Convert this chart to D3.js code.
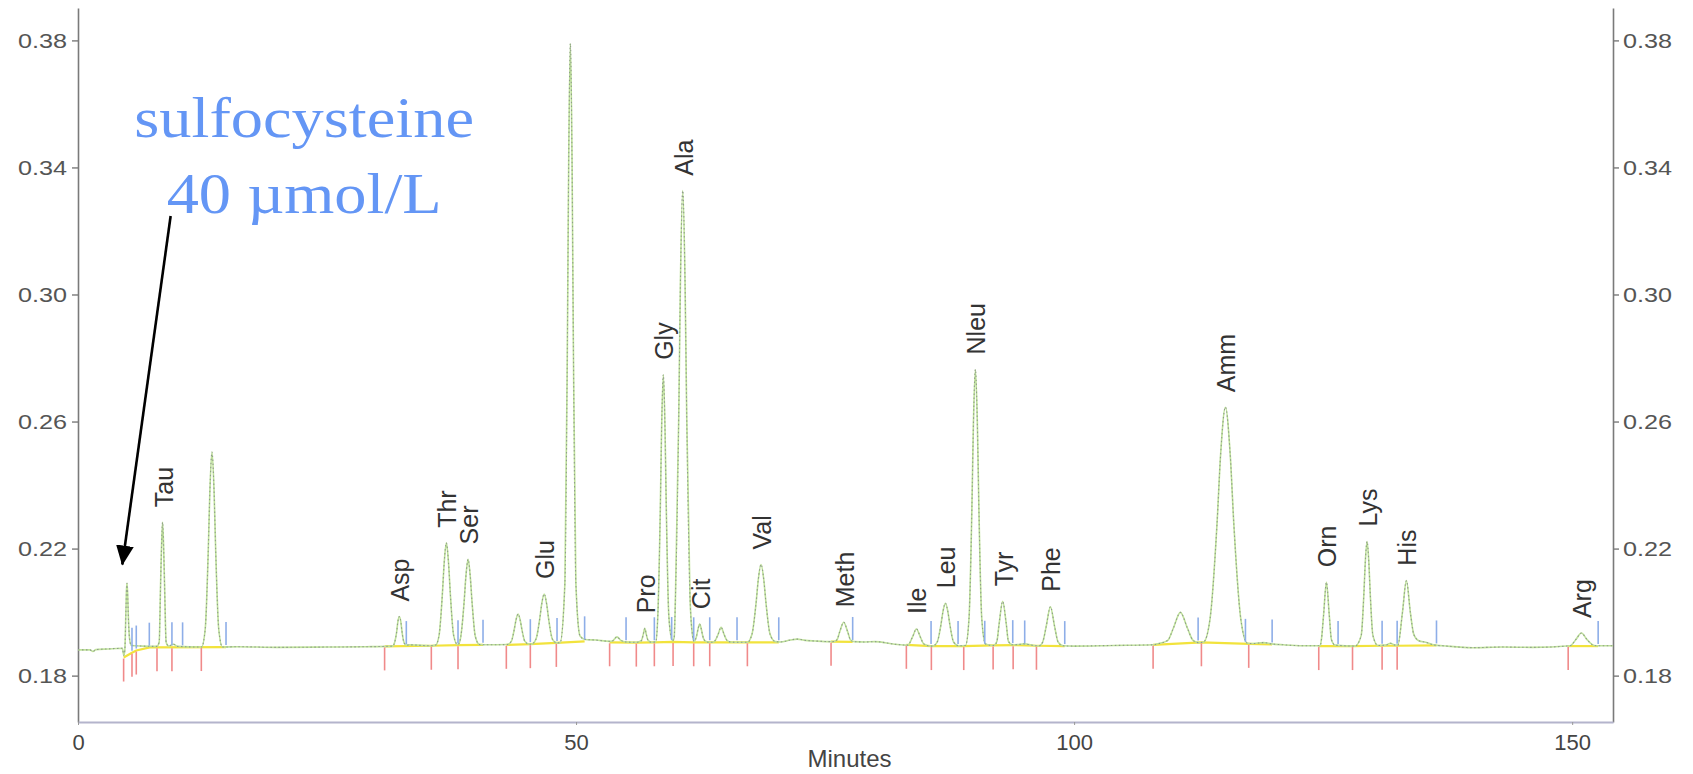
<!DOCTYPE html>
<html>
<head>
<meta charset="utf-8">
<script src="https://cdn.jsdelivr.net/npm/d3@7"></script>
<style>
  html, body { margin: 0; padding: 0; background: #fff; }
  svg { display: block; }
  text { font-family: "Liberation Sans", Arial, sans-serif; }
</style>
</head>
<body>
<svg id="chart" width="1693" height="774"></svg>
<script>
// ---------------- DATA ----------------
const xTicks = [0, 50, 100, 150];
const yTicks = [0.18, 0.22, 0.26, 0.30, 0.34, 0.38];
const xLabel = "Minutes";

// chromatogram trace [minutes, absorbance]
const trace = [
  [0,0.1881],[1.2,0.1881],[1.5,0.1876],[1.8,0.1882],[3,0.1884],[4.45,0.1886],
  [4.60,0.1864],[4.70,0.1880],[4.80,0.1990],[4.87,0.2070],[4.92,0.2091],[4.98,0.2060],[5.05,0.1990],[5.18,0.1915],[5.35,0.1895],
  [6.5,0.1893],[7.9,0.1892],[8.15,0.1905],[8.29,0.2087],[8.38,0.2200],[8.49,0.2283],[8.60,0.2200],[8.69,0.2087],[8.85,0.1905],[9.1,0.1893],
  [9.6,0.1899],[10.0,0.1892],[12.4,0.1890],
  [12.77,0.1946],[13.08,0.2197],[13.24,0.2381],[13.45,0.2504],[13.66,0.2381],[13.82,0.2197],[14.13,0.1946],[14.5,0.1890],
  [16,0.1891],[20,0.1889],[25,0.1890],[29,0.1891],[31.6,0.1893],
  [31.76,0.1902],[32.0,0.1940],[32.1,0.1967],[32.26,0.1986],[32.42,0.1967],[32.52,0.1940],[32.76,0.1902],[33.0,0.1896],
  [33.3,0.1897],[34.0,0.1896],[35.4,0.1894],
  [35.9,0.1896],[36.25,0.1927],[36.58,0.2057],[36.76,0.2154],[36.98,0.2218],[37.2,0.2154],[37.38,0.2057],[37.71,0.1927],[38.1,0.1898],
  [38.2,0.1899],[38.43,0.1923],[38.76,0.2031],[38.94,0.2112],[39.16,0.2166],[39.38,0.2112],[39.56,0.2031],[39.89,0.1923],[40.3,0.1898],
  [41,0.1897],[43.1,0.1898],
  [43.5,0.1908],[43.8,0.1946],[43.97,0.1975],[44.18,0.1994],[44.39,0.1975],[44.56,0.1946],[44.86,0.1908],[45.3,0.1899],
  [45.5,0.1899],[45.98,0.1915],[46.35,0.1978],[46.55,0.2025],[46.8,0.2057],[47.05,0.2025],[47.25,0.1978],[47.62,0.1915],[48.05,0.1903],
  [48.4,0.1904],[48.88,0.2092],[49.13,0.2847],[49.26,0.3413],[49.43,0.3790],[49.60,0.3413],[49.73,0.2847],[49.98,0.2092],[50.4,0.1925],[50.9,0.1914],
  [52,0.1912],[53.4,0.1908],[53.7,0.1910],[54.1,0.1922],[54.5,0.1911],[55.0,0.1906],[56.1,0.1905],
  [56.55,0.1910],[56.75,0.1930],[56.9,0.1949],[57.05,0.1930],[57.25,0.1910],[57.6,0.1905],[58.0,0.1907],
  [58.21,0.1990],[58.46,0.2327],[58.59,0.2579],[58.76,0.2747],[58.93,0.2579],[59.06,0.2327],[59.31,0.1990],[59.6,0.1915],
  [59.7,0.1910],[59.85,0.1920],[59.98,0.2048],[60.31,0.2617],[60.48,0.3043],[60.71,0.3327],[60.94,0.3043],[61.11,0.2617],[61.44,0.2048],[61.7,0.1925],[61.85,0.1908],
  [62.1,0.1925],[62.25,0.1947],[62.41,0.1962],[62.57,0.1947],[62.72,0.1925],[63.0,0.1908],[63.4,0.1905],
  [63.7,0.1905],[64.0,0.1912],[64.26,0.1930],[64.56,0.1952],[64.86,0.1930],[65.12,0.1912],[65.5,0.1906],[66.16,0.1905],
  [67.2,0.1905],[67.66,0.1930],[68.07,0.2028],[68.29,0.2101],[68.57,0.2150],[68.85,0.2101],[69.07,0.2028],[69.48,0.1930],[70.0,0.1907],
  [70.5,0.1906],[71.5,0.1912],[72.2,0.1915],[73.0,0.1911],[74.0,0.1909],[75.6,0.1907],
  [75.8,0.1907],[76.2,0.1913],[76.47,0.1938],[76.87,0.1968],[77.27,0.1938],[77.54,0.1913],[77.9,0.1907],
  [79,0.1906],[80,0.1907],[82,0.1899],[83.3,0.1896],
  [83.77,0.1921],[84.17,0.1947],[84.57,0.1921],[84.9,0.1900],[85.6,0.1893],
  [85.8,0.1893],[86.26,0.1906],[86.63,0.1960],[86.83,0.2001],[87.08,0.2028],[87.33,0.2001],[87.53,0.1960],[87.9,0.1906],[88.4,0.1894],[89.1,0.1895],
  [89.45,0.1980],[89.74,0.2329],[89.89,0.2590],[90.09,0.2764],[90.29,0.2590],[90.44,0.2329],[90.73,0.1980],[91.1,0.1900],[91.87,0.1895],
  [92.0,0.1896],[92.25,0.1908],[92.48,0.1965],[92.83,0.2034],[93.18,0.1965],[93.41,0.1908],[93.8,0.1897],[94.4,0.1898],[95.0,0.1900],[96.2,0.1894],
  [96.5,0.1894],[96.85,0.1906],[97.2,0.1955],[97.62,0.2017],[98.04,0.1955],[98.39,0.1906],[98.9,0.1894],
  [100,0.1893],[104,0.1895],[107.9,0.1897],[108.5,0.1901],
  [109.4,0.1911],[109.97,0.1950],[110.67,0.1999],[111.37,0.1950],[111.94,0.1911],[112.5,0.1904],[113.0,0.1906],
  [113.64,0.1977],[114.34,0.2274],[114.71,0.2497],[115.19,0.2645],[115.67,0.2497],[116.04,0.2274],[116.74,0.1977],[117.4,0.1902],
  [118,0.1901],[119,0.1904],[119.8,0.1900],[121,0.1897],[123,0.1894],[124.7,0.1894],
  [124.83,0.1914],[125.05,0.1993],[125.33,0.2094],[125.61,0.1993],[125.83,0.1914],[126.2,0.1896],[128.2,0.1893],
  [128.82,0.1926],[129.09,0.2057],[129.23,0.2156],[129.41,0.2222],[129.59,0.2156],[129.73,0.2057],[130.0,0.1926],[130.5,0.1895],
  [131.3,0.1896],[131.76,0.1902],[132.2,0.1896],[132.5,0.1896],
  [132.96,0.1998],[133.36,0.2099],[133.76,0.1998],[134.1,0.1930],[134.6,0.1910],[135.3,0.1905],[136.2,0.1896],[137,0.1894],
  [140,0.1888],[143,0.1890],[146,0.1889],[149.8,0.1894],
  [150.38,0.1914],[150.93,0.1934],[151.48,0.1914],[152.2,0.1895],[152.6,0.1894],[154.1,0.1894]
];

// integration baselines (yellow)
const baselineSegments = [
  [[4.58,0.1857],[5.42,0.1872],[5.85,0.1879],[7.2,0.1889],[14.86,0.1890]],
  [[30.78,0.1892],[35.47,0.1894],[38.15,0.1896],[40.66,0.1897]],
  [[43.0,0.1897],[45.41,0.1899],[48.02,0.1903],[50.86,0.1908]],
  [[53.37,0.1905],[56.05,0.1904],[57.86,0.1905],[59.74,0.1906],[61.81,0.1905],[63.42,0.1905],[67.2,0.1905],[70.35,0.1905]],
  [[75.6,0.1907],[77.77,0.1906]],
  [[83.16,0.1897],[85.67,0.1893],[88.92,0.1893],[91.87,0.1895],[93.88,0.1896],[96.22,0.1894],[99.06,0.1893]],
  [[107.93,0.1897],[112.78,0.1905],[117.53,0.1900],[119.88,0.1898]],
  [[124.56,0.1893],[127.95,0.1893],[130.92,0.1894],[132.43,0.1894],[136.38,0.1895]],
  [[149.6,0.1893],[152.61,0.1893]]
];

// peak start marks (red) and end marks (blue)
const startMarks = [
  [4.58,0.1857],[5.42,0.1872],[5.85,0.1879],[7.93,0.1889],[9.43,0.1889],[12.38,0.1890],
  [30.78,0.1892],[35.47,0.1894],[38.15,0.1896],
  [43.0,0.1897],[45.41,0.1899],[48.02,0.1903],
  [53.37,0.1905],[56.05,0.1904],[57.86,0.1905],[59.74,0.1906],[61.81,0.1905],[63.42,0.1905],[67.2,0.1905],
  [75.6,0.1907],
  [83.16,0.1897],[85.67,0.1893],[88.92,0.1893],[91.87,0.1895],[93.88,0.1896],[96.22,0.1894],
  [107.93,0.1897],[112.78,0.1905],[117.53,0.1900],
  [124.56,0.1893],[127.95,0.1893],[130.92,0.1894],[132.43,0.1894],
  [149.6,0.1893]
];
const endMarks = [
  [5.42,0.1872],[5.85,0.1879],[7.16,0.1888],[9.43,0.1889],[10.5,0.1889],[14.86,0.1890],
  [32.96,0.1893],[38.15,0.1896],[40.66,0.1897],
  [45.41,0.1899],[48.09,0.1903],[50.86,0.1908],
  [55.02,0.1905],[57.86,0.1905],[59.6,0.1906],[61.81,0.1905],[63.42,0.1905],[66.16,0.1905],[70.35,0.1905],
  [77.77,0.1906],
  [85.64,0.1893],[88.35,0.1893],[91.03,0.1894],[93.84,0.1896],[95.04,0.1895],[99.06,0.1893],
  [112.45,0.1904],[117.2,0.1900],[119.88,0.1898],
  [126.5,0.1893],[130.92,0.1894],[132.43,0.1894],[136.38,0.1895],
  [152.61,0.1893]
];

// peak labels
const peakNames   = ["Tau","Asp","Thr","Ser","Glu","Pro","Gly","Ala","Cit","Val","Meth","Ile","Leu","Nleu","Tyr","Phe","Amm","Orn","Lys","His","Arg"];
const peakTimes   = [8.49,32.26,36.98,39.16,46.8,56.9,58.76,60.71,62.41,68.57,76.87,84.17,87.08,90.09,92.83,97.62,115.19,125.33,129.41,133.36,150.93];
const peakHeights = [0.2283,0.1986,0.2218,0.2166,0.2057,0.1949,0.2747,0.3327,0.1962,0.2150,0.1968,0.1947,0.2028,0.2764,0.2034,0.2017,0.2645,0.2094,0.2222,0.2099,0.1934];

// annotation
const annotationLines = ["sulfocysteine", "40 \u00b5mol/L"];
const annotationText = [22.7, 0.3496];     // [minutes, absorbance] of first text line
const annotationArrow = [[9.3, 0.3247], [4.45, 0.2150]];

// ---------------- CHART ----------------
const svg = d3.select("#chart");
const plotLeft = 78, plotRight = 1613, plotTop = 8, plotBottom = 722;

const x = d3.scaleLinear().domain([0, 154.1]).range([plotLeft, plotRight]);
const y = d3.scaleLinear().domain([0.1654, 0.3902]).range([plotBottom, plotTop]);

// axes
const axisColor = "#7a7a7a";
const gLeft = svg.append("g").attr("transform", `translate(${plotLeft},0)`)
  .call(d3.axisLeft(y).tickValues(yTicks).tickFormat(d3.format(".2f")).tickSize(6).tickSizeOuter(0).tickPadding(5));
const gRight = svg.append("g").attr("transform", `translate(${plotRight},0)`)
  .call(d3.axisRight(y).tickValues(yTicks).tickFormat(d3.format(".2f")).tickSize(6).tickSizeOuter(0).tickPadding(4));
[gLeft, gRight].forEach(g => {
  g.select(".domain").attr("stroke", axisColor).attr("stroke-width", 1.6);
  g.selectAll(".tick line").attr("stroke", axisColor).attr("stroke-width", 1.4);
  g.selectAll(".tick text").attr("fill", "#555").style("font-size", "21px")
    .attr("font-family", "Liberation Sans, Arial, sans-serif");
});
gLeft.selectAll(".tick text").attr("transform", "scale(1.2,1)").attr("x", -11 / 1.2);
gRight.selectAll(".tick text").attr("transform", "scale(1.2,1)").attr("x", 10 / 1.2);

const gBottom = svg.append("g").attr("transform", `translate(0,${plotBottom})`)
  .call(d3.axisBottom(x).tickValues(xTicks).tickFormat(d3.format("d")).tickSize(3).tickSizeOuter(0).tickPadding(9));
gBottom.select(".domain").attr("stroke", "#b4b4cc").attr("stroke-width", 2);
gBottom.selectAll(".tick line").attr("stroke", "#999");
gBottom.selectAll(".tick text").attr("fill", "#444").style("font-size", "22px");

svg.append("text")
  .attr("x", (plotLeft + plotRight) / 2 + 4).attr("y", 767)
  .attr("text-anchor", "middle").attr("fill", "#444").style("font-size", "24px")
  .attr("transform", null)
  .text(xLabel);

// integration baselines
const lineGen = d3.line().x(d => x(d[0])).y(d => y(d[1]));
svg.append("g").selectAll("path").data(baselineSegments).join("path")
  .attr("d", lineGen).attr("fill", "none").attr("stroke", "#f2e33c").attr("stroke-width", 2.2);

// trace
const traceGen = d3.line().x(d => x(d[0])).y(d => y(d[1])).curve(d3.curveMonotoneX);
svg.append("path").datum(trace).attr("d", traceGen)
  .attr("fill", "none").attr("stroke", "#bfe29a").attr("stroke-width", 1.6);
svg.append("path").datum(trace).attr("d", traceGen)
  .attr("fill", "none").attr("stroke", "#8f9d8a").attr("stroke-width", 1.1)
  .attr("stroke-dasharray", "1.5,2.5");

// marks
svg.append("g").selectAll("line").data(startMarks).join("line")
  .attr("x1", d => x(d[0])).attr("x2", d => x(d[0]))
  .attr("y1", d => y(d[1]) + 1).attr("y2", d => y(d[1]) + 24)
  .attr("stroke", "#f08a8a").attr("stroke-width", 1.6);
svg.append("g").selectAll("line").data(endMarks).join("line")
  .attr("x1", d => x(d[0])).attr("x2", d => x(d[0]))
  .attr("y1", d => y(d[1]) - 2).attr("y2", d => y(d[1]) - 25)
  .attr("stroke", "#8eaee8").attr("stroke-width", 1.6);

// peak labels
const labels = peakNames.map((n, i) => ({ name: n, t: peakTimes[i], v: peakHeights[i] }));
svg.append("g").selectAll("text").data(labels).join("text")
  .attr("transform", d => `translate(${x(d.t) + 1},${y(d.v) - 15}) rotate(-90)`)
  .attr("text-anchor", "start").attr("dy", "0.36em")
  .attr("fill", "#333").style("font-size", "25px")
  .text(d => d.name);

// annotation
const ann = svg.append("g");
annotationLines.forEach((line, i) => {
  ann.append("text")
    .attr("transform", `translate(${x(annotationText[0])},${y(annotationText[1]) + i * 76}) scale(1.15,1)`)
    .attr("text-anchor", "middle")
    .attr("fill", "#6496f5")
    .style("font-family", "'Liberation Serif', 'Times New Roman', serif")
    .style("font-size", "56px")
    .text(line);
});
svg.append("defs").append("marker")
  .attr("id", "arrowhead").attr("markerUnits", "userSpaceOnUse")
  .attr("markerWidth", 20).attr("markerHeight", 20)
  .attr("viewBox", "0 -8 18 16").attr("refX", 17).attr("refY", 0).attr("orient", "auto")
  .append("path").attr("d", "M0,-8L18,0L0,8Z").attr("fill", "#000");
ann.append("line")
  .attr("x1", x(annotationArrow[0][0])).attr("y1", y(annotationArrow[0][1]))
  .attr("x2", x(annotationArrow[1][0])).attr("y2", y(annotationArrow[1][1]))
  .attr("stroke", "#000").attr("stroke-width", 2.6)
  .attr("marker-end", "url(#arrowhead)");
</script>
</body>
</html>
